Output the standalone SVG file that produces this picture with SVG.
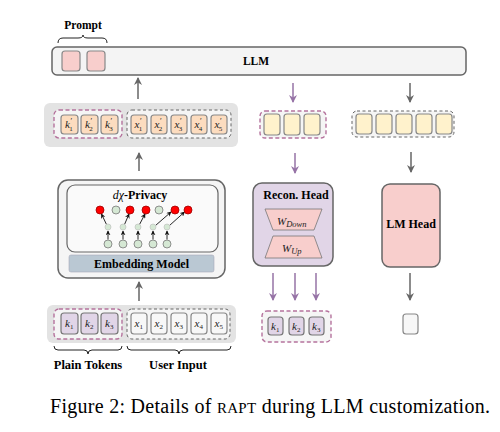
<svg xmlns="http://www.w3.org/2000/svg" width="500" height="432" viewBox="0 0 500 432" font-family="'Liberation Serif','Times New Roman',serif">
<style>
.t{font-family:'Liberation Serif','Times New Roman',serif;font-weight:bold;fill:#000}
.m{font-family:'Liberation Serif','Times New Roman',serif;font-style:italic;fill:#222;font-size:11px}
.panel{fill:#e3e3e3;stroke:none}
.dp{fill:#f5f5f5;stroke:#b5739d;stroke-width:1.4;stroke-dasharray:4 2.5}
.dg{fill:#f5f5f5;stroke:#666;stroke-width:1;stroke-dasharray:3 2.5}
.pk{fill:#f8cecc;stroke:#888;stroke-width:1.2}
.pe{fill:#fcdcbf;stroke:#888;stroke-width:1.2}
.pu{fill:#e1d5e7;stroke:#777;stroke-width:1.2}
.wh{fill:#f7f7f7;stroke:#888;stroke-width:1.2}
.ye{fill:#fff2cc;stroke:#888;stroke-width:1.2}
.ag{stroke:#666;stroke-width:1.5;fill:none;marker-end:url(#mg)}
.ap{stroke:#9673a6;stroke-width:1.5;fill:none;marker-end:url(#mp)}
.br{fill:none;stroke:#222;stroke-width:1}
.rn{fill:#ff0000;stroke:#a00000;stroke-width:0.8}
.gn{fill:#d5e8d4;stroke:#777;stroke-width:0.8}
.sn{fill:#d5e8d4;stroke:#bbb;stroke-width:0.6}
.na{stroke:#111;stroke-width:0.9;fill:none;marker-end:url(#mk)}
</style>
<defs>
<marker id="mg" viewBox="0 0 8 8" refX="7" refY="4" markerWidth="8" markerHeight="8" markerUnits="userSpaceOnUse" orient="auto"><path d="M0,0 L8,4 L0,8 L2.5,4 z" fill="#666"/></marker>
<marker id="mp" viewBox="0 0 8 8" refX="7" refY="4" markerWidth="8" markerHeight="8" markerUnits="userSpaceOnUse" orient="auto"><path d="M0,0 L8,4 L0,8 L2.5,4 z" fill="#9673a6"/></marker>
<marker id="mk" viewBox="0 0 8 8" refX="7" refY="4" markerWidth="5" markerHeight="5" markerUnits="userSpaceOnUse" orient="auto"><path d="M0,0 L8,4 L0,8 L2.5,4 z" fill="#111"/></marker>
</defs>
<rect width="500" height="432" fill="#fff"/>

<g id="prompt-label">
<text class="t" x="83" y="29" font-size="11.5" font-weight="bold" text-anchor="middle">Prompt</text>
<path class="br" d="M58,43 Q58,38 63,38 L78,38 Q83,38 83,35 Q83,38 88,38 L102,38 Q107,38 107,43"/>
</g>

<g id="llm">
<rect x="52" y="47" width="414" height="28" rx="5" fill="#f4f4f4" stroke="#666" stroke-width="1.5"/>
<rect class="pk" x="62" y="51" width="18" height="20" rx="3"/>
<rect class="pk" x="87" y="51" width="18" height="20" rx="3"/>
<text class="t" x="256" y="65" font-size="11.5" font-weight="bold" text-anchor="middle">LLM</text>
</g>

<g id="embedded-tokens">
<rect class="panel" x="44" y="103" width="194" height="44" rx="6"/>
<rect class="dp" x="54" y="110" width="68" height="28" rx="5"/>
<rect class="dg" x="127" y="110" width="104" height="28" rx="5"/>
<rect class="pe" x="61" y="115" width="17" height="19" rx="3"/>
<rect class="pe" x="81" y="115" width="17" height="19" rx="3"/>
<rect class="pe" x="101" y="115" width="17" height="19" rx="3"/>
<text class="m" x="65" y="128" font-style="italic">k<tspan font-size="8" dy="-4">′</tspan><tspan font-size="7" font-style="normal" dx="-2.5" dy="7">1</tspan></text>
<text class="m" x="85" y="128" font-style="italic">k<tspan font-size="8" dy="-4">′</tspan><tspan font-size="7" font-style="normal" dx="-2.5" dy="7">2</tspan></text>
<text class="m" x="105" y="128" font-style="italic">k<tspan font-size="8" dy="-4">′</tspan><tspan font-size="7" font-style="normal" dx="-2.5" dy="7">3</tspan></text>
<rect class="pe" x="131" y="115" width="16" height="19" rx="3"/>
<rect class="pe" x="151" y="115" width="16" height="19" rx="3"/>
<rect class="pe" x="171" y="115" width="16" height="19" rx="3"/>
<rect class="pe" x="191" y="115" width="16" height="19" rx="3"/>
<rect class="pe" x="211" y="115" width="16" height="19" rx="3"/>
<text class="m" x="134.5" y="128" font-style="italic">x<tspan font-size="8" dy="-4">′</tspan><tspan font-size="7" font-style="normal" dx="-2.5" dy="7">1</tspan></text>
<text class="m" x="154.5" y="128" font-style="italic">x<tspan font-size="8" dy="-4">′</tspan><tspan font-size="7" font-style="normal" dx="-2.5" dy="7">2</tspan></text>
<text class="m" x="174.5" y="128" font-style="italic">x<tspan font-size="8" dy="-4">′</tspan><tspan font-size="7" font-style="normal" dx="-2.5" dy="7">3</tspan></text>
<text class="m" x="194.5" y="128" font-style="italic">x<tspan font-size="8" dy="-4">′</tspan><tspan font-size="7" font-style="normal" dx="-2.5" dy="7">4</tspan></text>
<text class="m" x="214.5" y="128" font-style="italic">x<tspan font-size="8" dy="-4">′</tspan><tspan font-size="7" font-style="normal" dx="-2.5" dy="7">5</tspan></text>
</g>

<g id="embedding-model">
<rect x="58" y="180" width="167" height="98" rx="10" fill="#f5f5f5" stroke="#666" stroke-width="1.5"/>
<rect x="67" y="185" width="151" height="67" rx="8" fill="#fafafa" stroke="#666" stroke-width="1.2"/>
<rect x="69" y="255" width="145" height="17" rx="2" fill="#bac8d3" stroke="#aab" stroke-width="0.6"/>
<text class="t" x="141.5" y="267.5" font-size="12" font-weight="bold" text-anchor="middle">Embedding Model</text>
<text class="t" x="140" y="199" font-size="12" font-weight="bold" text-anchor="middle"><tspan font-style="italic" font-weight="normal">dχ</tspan>-Privacy</text>
</g>

<g id="privacy-nodes">
<line class="na" x1="108" y1="239.5" x2="108" y2="231"/>
<line class="na" x1="123" y1="239.5" x2="123" y2="231"/>
<line class="na" x1="138" y1="239.5" x2="138" y2="231"/>
<line class="na" x1="153" y1="239.5" x2="153" y2="231"/>
<line class="na" x1="167" y1="239.5" x2="167" y2="231"/>
<line class="na" x1="106.5" y1="224.5" x2="101.5" y2="214"/>
<line class="na" x1="124.5" y1="224.5" x2="129" y2="214"/>
<line class="na" x1="139.5" y1="224.5" x2="145" y2="214"/>
<line class="na" x1="155.5" y1="225.5" x2="171" y2="212"/>
<line class="na" x1="169.5" y1="225.5" x2="184.5" y2="212"/>
<circle class="rn" cx="100" cy="210" r="4"/>
<circle class="gn" cx="116" cy="210" r="4"/>
<circle class="rn" cx="130" cy="210" r="4"/>
<circle class="rn" cx="146" cy="210" r="4"/>
<circle class="gn" cx="159" cy="210" r="4"/>
<circle class="rn" cx="175" cy="210" r="4"/>
<circle class="rn" cx="188" cy="210" r="4"/>
<circle class="sn" cx="108" cy="227" r="3"/>
<circle class="sn" cx="123" cy="227" r="3"/>
<circle class="sn" cx="138" cy="227" r="3"/>
<circle class="sn" cx="153" cy="227" r="3"/>
<circle class="sn" cx="167" cy="227" r="3"/>
<circle class="gn" cx="108" cy="244" r="4"/>
<circle class="gn" cx="123" cy="244" r="4"/>
<circle class="gn" cx="138" cy="244" r="4"/>
<circle class="gn" cx="153" cy="244" r="4"/>
<circle class="gn" cx="167" cy="244" r="4"/>
</g>

<g id="input-tokens">
<rect class="panel" x="47" y="305" width="189" height="38" rx="6"/>
<rect class="dp" x="54" y="309" width="68" height="30" rx="5"/>
<rect class="dg" x="127" y="309" width="103" height="30" rx="5"/>
<rect class="pu" x="61" y="313" width="17" height="21" rx="3"/>
<rect class="pu" x="81" y="313" width="17" height="21" rx="3"/>
<rect class="pu" x="101" y="313" width="17" height="21" rx="3"/>
<text class="m" x="65" y="327" font-style="italic">k<tspan font-size="7" font-style="normal" dy="2">1</tspan></text>
<text class="m" x="85" y="327" font-style="italic">k<tspan font-size="7" font-style="normal" dy="2">2</tspan></text>
<text class="m" x="105" y="327" font-style="italic">k<tspan font-size="7" font-style="normal" dy="2">3</tspan></text>
<rect class="wh" x="131" y="313" width="16" height="21" rx="3"/>
<rect class="wh" x="151" y="313" width="16" height="21" rx="3"/>
<rect class="wh" x="171" y="313" width="16" height="21" rx="3"/>
<rect class="wh" x="191" y="313" width="16" height="21" rx="3"/>
<rect class="wh" x="211" y="313" width="16" height="21" rx="3"/>
<text class="m" x="134.5" y="327" font-style="italic">x<tspan font-size="7" font-style="normal" dy="2">1</tspan></text>
<text class="m" x="154.5" y="327" font-style="italic">x<tspan font-size="7" font-style="normal" dy="2">2</tspan></text>
<text class="m" x="174.5" y="327" font-style="italic">x<tspan font-size="7" font-style="normal" dy="2">3</tspan></text>
<text class="m" x="194.5" y="327" font-style="italic">x<tspan font-size="7" font-style="normal" dy="2">4</tspan></text>
<text class="m" x="214.5" y="327" font-style="italic">x<tspan font-size="7" font-style="normal" dy="2">5</tspan></text>
<path class="br" d="M54,346 Q54,350 58,350 L84,350 Q88,350 88,354 Q88,350 92,350 L118,350 Q122,350 122,346"/>
<path class="br" d="M127,346 Q127,350 131,350 L175,350 Q179,350 179,354 Q179,350 183,350 L227,350 Q231,350 231,346"/>
<text class="t" x="88" y="369" font-size="12.5" font-weight="bold" text-anchor="middle">Plain Tokens</text>
<text class="t" x="178" y="369" font-size="12.5" font-weight="bold" text-anchor="middle">User Input</text>
</g>

<g id="recon-hidden">
<rect class="dp" x="260" y="111" width="66" height="27" rx="5"/>
<rect class="ye" x="264" y="114" width="16" height="21" rx="3"/>
<rect class="ye" x="284" y="114" width="16" height="21" rx="3"/>
<rect class="ye" x="304" y="114" width="16" height="21" rx="3"/>
</g>

<g id="lm-hidden">
<rect class="dg" x="352" y="111" width="102" height="26" rx="5" fill="#fff"/>
<rect class="ye" x="356" y="114" width="16" height="20" rx="3"/>
<rect class="ye" x="376" y="114" width="16" height="20" rx="3"/>
<rect class="ye" x="396" y="114" width="16" height="20" rx="3"/>
<rect class="ye" x="416" y="114" width="16" height="20" rx="3"/>
<rect class="ye" x="436" y="114" width="16" height="20" rx="3"/>
</g>

<g id="recon-head">
<rect x="253" y="183" width="80" height="83" rx="9" fill="#e1d5e7" stroke="#666" stroke-width="1.5"/>
<text class="t" x="296" y="199" font-size="12" font-weight="bold" text-anchor="middle">Recon. Head</text>
<polygon points="265,209 322,209 314,230 273,230" fill="#f8cecc" stroke="#777" stroke-width="0.8"/>
<polygon points="273,236 314,236 322,258 265,258" fill="#f8cecc" stroke="#777" stroke-width="0.8"/>
<text class="m" x="277" y="225" font-size="14" font-style="italic">W<tspan font-size="8.5" dy="2">Down</tspan></text>
<text class="m" x="282" y="252" font-size="14" font-style="italic">W<tspan font-size="8.5" dy="2">Up</tspan></text>
</g>

<g id="lm-head">
<rect x="382" y="184" width="58" height="83" rx="8" fill="#f8cecc" stroke="#666" stroke-width="1.5"/>
<text class="t" x="411" y="228" font-size="12" font-weight="bold" text-anchor="middle">LM Head</text>
</g>

<g id="recon-output">
<rect class="dp" x="262" y="311" width="69" height="31" rx="5"/>
<rect class="pu" x="268" y="317" width="15" height="18" rx="3"/>
<rect class="pu" x="289" y="317" width="15" height="18" rx="3"/>
<rect class="pu" x="309" y="317" width="15" height="18" rx="3"/>
<text class="m" x="271" y="329.5" font-style="italic">k<tspan font-size="7" font-style="normal" dy="2">1</tspan></text>
<text class="m" x="292" y="329.5" font-style="italic">k<tspan font-size="7" font-style="normal" dy="2">2</tspan></text>
<text class="m" x="312" y="329.5" font-style="italic">k<tspan font-size="7" font-style="normal" dy="2">3</tspan></text>
</g>

<g id="lm-output">
<rect class="wh" x="403" y="314" width="15" height="20" rx="3"/>
</g>

<g id="connectors">
<line class="ag" x1="138" y1="99" x2="138" y2="78"/>
<line class="ag" x1="139" y1="171" x2="139" y2="153"/>
<line class="ag" x1="139" y1="301" x2="139" y2="282"/>
<line class="ap" x1="293" y1="83" x2="293" y2="102"/>
<line class="ap" x1="295" y1="153" x2="295" y2="173"/>
<line class="ag" x1="410" y1="83" x2="410" y2="102"/>
<line class="ag" x1="411" y1="152" x2="411" y2="172"/>
<line class="ap" x1="273" y1="273" x2="273" y2="300"/>
<line class="ap" x1="295" y1="273" x2="295" y2="300"/>
<line class="ap" x1="316" y1="273" x2="316" y2="300"/>
<line class="ag" x1="410" y1="273" x2="410" y2="300"/>
</g>

<g id="caption">
<text x="50" y="413" font-size="20" fill="#000" textLength="440" lengthAdjust="spacing">Figure 2: Details of <tspan font-size="15">RAPT</tspan> during LLM customization.</text>
</g>
</svg>
